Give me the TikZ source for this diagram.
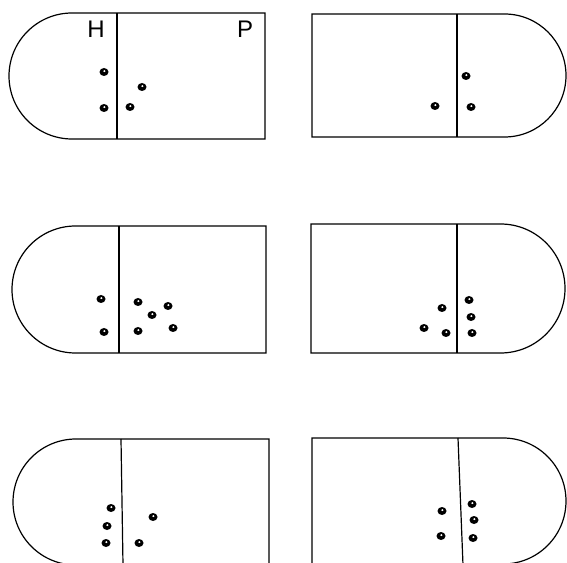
\documentclass[tikz,border=0pt]{standalone}
\usepackage{fontspec}
\setsansfont{Liberation Sans}
\usepackage{tikz}
\usetikzlibrary{calc}

\newcommand{\bead}[2]{%
  \fill (#1,#2) ellipse[x radius=4.5, y radius=4];
  \fill[white] ($(#1,#2)+(0.4,0.9)$) ellipse[x radius=1.2, y radius=1];}

\begin{document}
\begin{tikzpicture}[x=1pt, y=1pt, dish/.style={line width=1.2pt},
    lbl/.style={font=\sffamily\fontsize{24}{24}\selectfont, inner sep=0pt}]
        \useasboundingbox (0,0) rectangle (567,562);
        \clip (0,0) rectangle (567,562);

        % Top row
        \draw[dish] (72,549) -- (265,549) -- (265,423) -- (72,423)
            arc[start angle=-90, end angle=-270, radius=63];
        \draw[dish] (117,549) -- (117,423);
        \draw[dish] (504.5,425) -- (312,425) -- (312,548) -- (504.5,548)
            arc[start angle=90, end angle=-90, radius=61.5];
        \draw[dish] (457,548) -- (457,425);

        % Labels for the halves
        \node[lbl] (hlabel) at (96,533) {H};
        \node[lbl] (plabel) at (245,533) {P};

        % Middle row
        \draw[dish] (75.5,336) -- (266,336) -- (266,209) -- (75.5,209)
            arc[start angle=-90, end angle=-270, radius=63.5];
        \draw[dish] (119,336) -- (119,209);
        \draw[dish] (500.5,209) -- (311,209) -- (311,338) -- (500.5,338)
            arc[start angle=90, end angle=-90, radius=64.5];
        \draw[dish] (457,338) -- (457,209);

        % Bottom row, cut off at the lower edge
        \draw[dish] (269,-3) -- (269,123) -- (76,123)
            arc[start angle=90, end angle=270, radius=63];
        \draw[dish] (121,123) -- (123,-3);
        \draw[dish] (312,-3) -- (312,124) -- (503,124)
            arc[start angle=90, end angle=-90, radius=63];
        \draw[dish] (458,124) -- (463,-3);

        % The beads
        \foreach \x/\y in {104/490, 104/454, 142/475, 130/455,
                           466/486, 435/456, 471/455,
                           101/263, 104/230, 138/260, 168/256, 152/247, 138/231, 173/234,
                           442/254, 469/262, 471/245, 424/234, 446/229, 472/229,
                           111/54, 107/36, 106/19, 153/45, 139/19,
                           442/51, 472/58, 474/42, 473/24, 441/26}
            {\bead{\x}{\y}}
    \end{tikzpicture}
\end{document}
